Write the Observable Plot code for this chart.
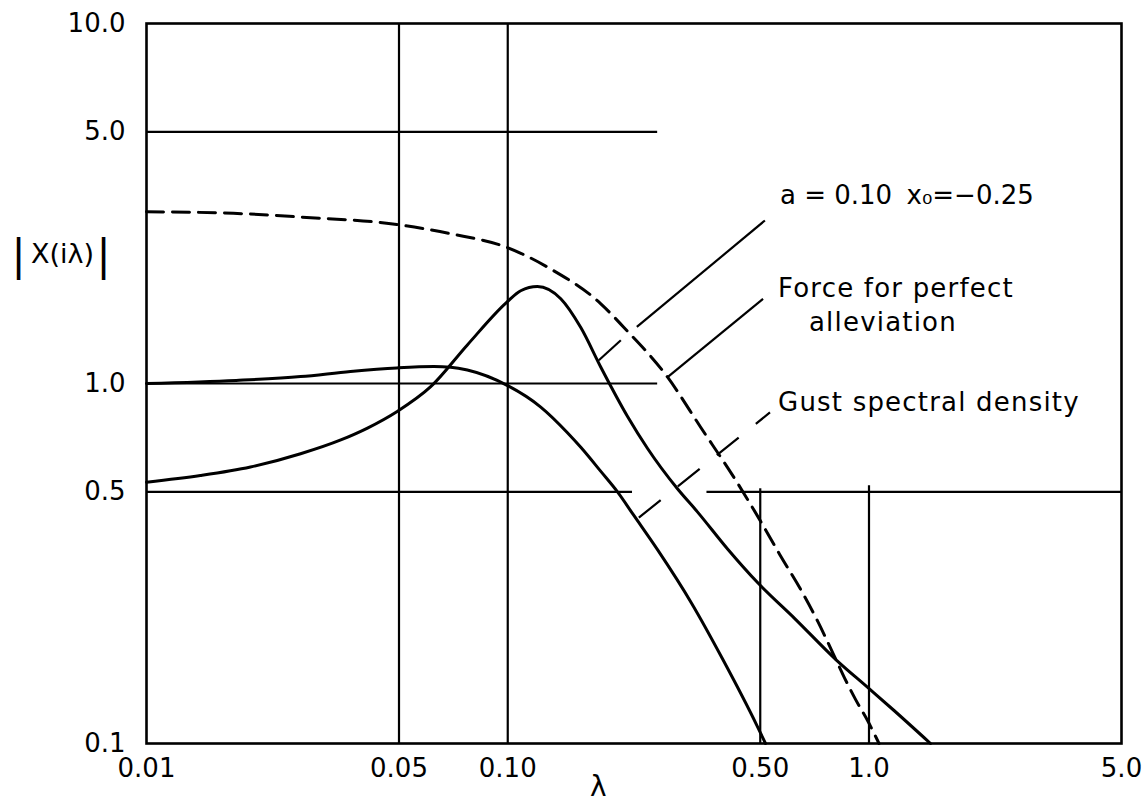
<!DOCTYPE html>
<html><head><meta charset="utf-8">
<script src="https://cdn.jsdelivr.net/npm/d3@7"></script>
<script src="https://cdn.jsdelivr.net/npm/@observablehq/plot@0.6"></script>
<style>
html,body{margin:0;padding:0;background:#fff;}
#chart svg{display:block;}
.note text{letter-spacing:1.2px;}
</style></head><body><div id="chart"></div>
<script>
// Tick values and labels
const xTicks = [0.01, 0.05, 0.1, 0.5, 1.0, 5.0];
const xTickLabels = ["0.01", "0.05", "0.10", "0.50", "1.0", "5.0"];
const yTicks = [0.1, 0.5, 1.0, 5.0, 10.0];
const yTickLabels = ["0.1", "0.5", "1.0", "5.0", "10.0"];

// Dashed curve: force for perfect alleviation
const dashedLambda = [0.01, 0.0174, 0.0267, 0.0493, 0.0695, 0.0993, 0.1315, 0.181, 0.2094, 0.277, 0.342, 0.433, 0.5, 0.566, 0.655, 0.722, 0.795, 0.856, 0.92, 0.99, 1.066];
const dashedValue  = [3.00, 2.97, 2.90, 2.765, 2.605, 2.39, 2.08, 1.665, 1.433, 1.041, 0.756, 0.528, 0.416, 0.335, 0.262, 0.218, 0.178, 0.152, 0.132, 0.116, 0.1];

// Solid curve: a = 0.10, x0 = -0.25
const bLambda = [0.01, 0.0141, 0.0194, 0.0267, 0.0345, 0.0409, 0.0493, 0.0612, 0.0773, 0.0993, 0.1086, 0.1208, 0.1402, 0.1593, 0.181, 0.2146, 0.2438, 0.295, 0.335, 0.406, 0.493, 0.624, 0.815, 0.99, 1.173, 1.48];
const bValue  = [0.532, 0.555, 0.586, 0.638, 0.697, 0.752, 0.835, 0.98, 1.28, 1.68, 1.81, 1.86, 1.72, 1.43, 1.11, 0.81, 0.66, 0.51, 0.44, 0.347, 0.279, 0.222, 0.170, 0.1434, 0.1235, 0.1];

// Solid curve: gust spectral density
const gustLambda = [0.01, 0.0177, 0.0267, 0.0367, 0.0493, 0.0625, 0.0695, 0.0773, 0.0993, 0.1234, 0.1463, 0.1593, 0.181, 0.2013, 0.2234, 0.260, 0.323, 0.393, 0.490, 0.517];
const gustValue  = [1.00, 1.02, 1.045, 1.08, 1.105, 1.115, 1.11, 1.09, 0.99, 0.86, 0.73, 0.665, 0.57, 0.50, 0.43, 0.345, 0.245, 0.172, 0.112, 0.1];

// Partial grid lines (data coordinates)
const hGridY  = [5.0, 1.0, 0.5, 0.5];
const hGridX1 = [0.01, 0.01, 0.01, 0.356];
const hGridX2 = [0.26, 0.26, 0.2215, 5.0];
const vGridX  = [0.05, 0.10, 0.50, 1.0];
const vGridY1 = [0.1, 0.1, 0.1, 0.1];
const vGridY2 = [10.0, 10.0, 0.51, 0.52];

// Leader lines
const leadX1 = [0.1787, 0.2277, 0.277];
const leadY1 = [1.16, 1.436, 1.041];
const leadX2 = [0.2056, 0.515, 0.509];
const leadY2 = [1.319, 2.836, 1.719];
const gustLeadX = [0.2306, 0.532];
const gustLeadY = [0.424, 0.831];

// Annotation texts
const paramText = ["a = 0.10", "x\u2080=\u22120.25"];
const paramX = [0.567, 1.27];
const paramY = [3.33, 3.33];
const noteText = ["Force for perfect", "alleviation", "Gust spectral density"];
const noteX = [0.56, 0.682, 0.56];
const noteY = [1.836, 1.477, 0.885];

const zipXY = (xs, ys) => xs.map((x, i) => ({x, y: ys[i]}));
const dashed = zipXY(dashedLambda, dashedValue);
const curveB = zipXY(bLambda, bValue);
const gust = zipXY(gustLambda, gustValue);
const hGrid = hGridY.map((y, i) => ({y, x1: hGridX1[i], x2: hGridX2[i]}));
const vGrid = vGridX.map((x, i) => ({x, y1: vGridY1[i], y2: vGridY2[i]}));
const leaders = leadX1.map((x1, i) => ({x1, y1: leadY1[i], x2: leadX2[i], y2: leadY2[i]}));
const gustLeader = [{x1: gustLeadX[0], y1: gustLeadY[0], x2: gustLeadX[1], y2: gustLeadY[1]}];
const params = paramText.map((t, i) => ({t, x: paramX[i], y: paramY[i]}));
const notes = noteText.map((t, i) => ({t, x: noteX[i], y: noteY[i]}));

const chart = Plot.plot({
  width: 1148,
  height: 809,
  marginLeft: 146,
  marginRight: 27,
  marginTop: 23,
  marginBottom: 66,
  style: {fontFamily: "DejaVu Sans", fontSize: "26px", background: "#fff", color: "#000"},
  x: {type: "log", domain: [0.01, 5]},
  y: {type: "log", domain: [0.1, 10]},
  marks: [
    Plot.ruleY(hGrid, {y: "y", x1: "x1", x2: "x2", stroke: "#000", strokeWidth: 2.2}),
    Plot.ruleX(vGrid, {x: "x", y1: "y1", y2: "y2", stroke: "#000", strokeWidth: 2.2}),
    Plot.frame({stroke: "#000", strokeWidth: 2.6}),
    Plot.line(dashed, {x: "x", y: "y", curve: "monotone-x", stroke: "#000", strokeWidth: 3, strokeDasharray: "17,9"}),
    Plot.line(curveB, {x: "x", y: "y", curve: "monotone-x", stroke: "#000", strokeWidth: 3}),
    Plot.line(gust, {x: "x", y: "y", curve: "monotone-x", stroke: "#000", strokeWidth: 3}),
    Plot.link(leaders, {x1: "x1", y1: "y1", x2: "x2", y2: "y2", stroke: "#000", strokeWidth: 2.2}),
    Plot.link(gustLeader, {x1: "x1", y1: "y1", x2: "x2", y2: "y2", stroke: "#000", strokeWidth: 2.2, strokeDasharray: "28,22"}),
    Plot.text(params, {x: "x", y: "y", text: "t", textAnchor: "start", fontSize: 26, fill: "#000"}),
    Plot.text(notes, {x: "x", y: "y", text: "t", textAnchor: "start", fontSize: 26, fill: "#000", className: "note"}),
    Plot.axisX(xTicks, {tickSize: 0, tickPadding: 15, label: null, fontSize: 26, tickFormat: d => xTickLabels[xTicks.indexOf(d)]}),
    Plot.axisY(yTicks, {tickSize: 0, tickPadding: 21, label: null, fontSize: 26, tickFormat: d => yTickLabels[yTicks.indexOf(d)]}),
    Plot.text(["λ"], {x: () => 0.178, frameAnchor: "bottom", dy: 52, text: d => d, textAnchor: "middle", fontSize: 28, fill: "#000"}),
    Plot.text(["X(iλ)"], {y: () => 2.28, frameAnchor: "left", dx: -84, text: d => d, textAnchor: "middle", fontSize: 27, fill: "#000"}),
    Plot.text(["|"], {y: () => 2.25, frameAnchor: "left", dx: -128, text: d => d, textAnchor: "middle", fontSize: 42, fill: "#000"}),
    Plot.text(["|"], {y: () => 2.25, frameAnchor: "left", dx: -43, text: d => d, textAnchor: "middle", fontSize: 42, fill: "#000"})
  ]
});
document.getElementById("chart").appendChild(chart);
</script>
</body></html>
